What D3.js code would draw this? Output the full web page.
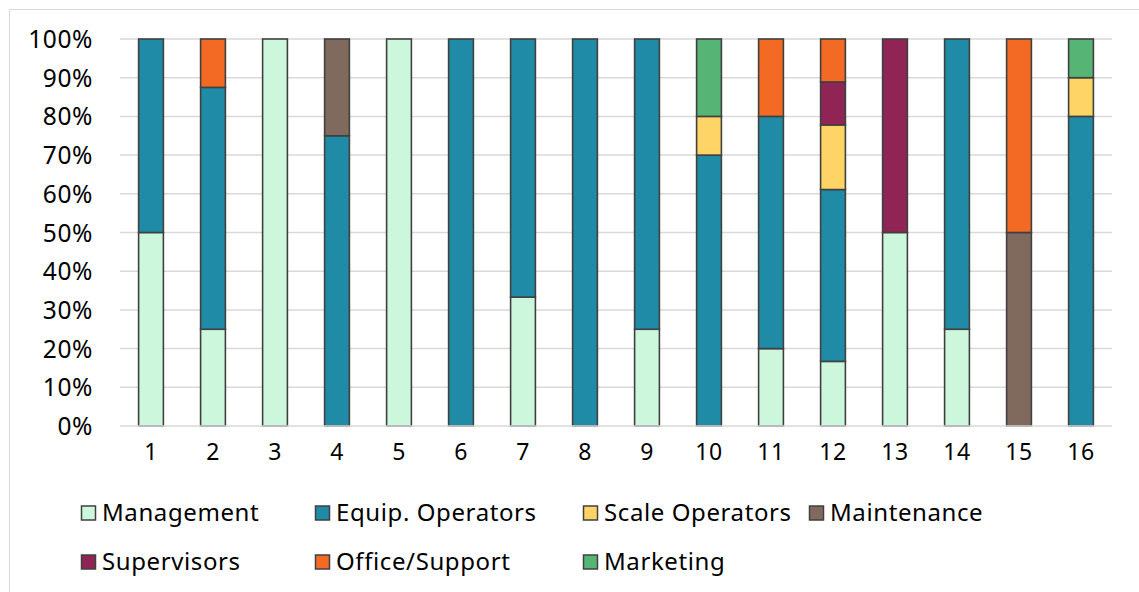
<!DOCTYPE html>
<html>
<head>
<meta charset="utf-8">
<script src="https://cdn.jsdelivr.net/npm/d3@7"></script>
<style>
  html, body { margin: 0; padding: 0; background: #fff; }
  svg text { font-family: "Noto Sans", "Open Sans", sans-serif; fill: #000; letter-spacing: 0.6px; }
</style>
</head>
<body>
<svg id="chart" width="1139" height="592"></svg>
<script>
// Crew composition per site, share of staff by role (%)
const categories = ["1","2","3","4","5","6","7","8","9","10","11","12","13","14","15","16"];
const seriesNames = ["Management","Equip. Operators","Scale Operators","Maintenance","Supervisors","Office/Support","Marketing"];
const management     = [50, 25, 100, 0, 100, 0, 33.3, 0, 25, 0, 20, 16.7, 50, 25, 0, 0];
const equipOperators = [50, 62.5, 0, 75, 0, 100, 66.7, 100, 75, 70, 60, 44.4, 0, 75, 0, 80];
const scaleOperators = [0, 0, 0, 0, 0, 0, 0, 0, 0, 10, 0, 16.7, 0, 0, 0, 10];
const maintenance    = [0, 0, 0, 25, 0, 0, 0, 0, 0, 0, 0, 0, 0, 0, 50, 0];
const supervisors    = [0, 0, 0, 0, 0, 0, 0, 0, 0, 0, 0, 11.1, 50, 0, 0, 0];
const officeSupport  = [0, 12.5, 0, 0, 0, 0, 0, 0, 0, 0, 20, 11.1, 0, 0, 50, 0];
const marketing      = [0, 0, 0, 0, 0, 0, 0, 0, 0, 20, 0, 0, 0, 0, 0, 10];
const yTicks = [0, 10, 20, 30, 40, 50, 60, 70, 80, 90, 100];
const colors = ["#CDF7DD", "#1F8BA7", "#FFD466", "#806A5E", "#902454", "#F26A24", "#56B475"];

const seriesValues = [management, equipOperators, scaleOperators, maintenance, supervisors, officeSupport, marketing];
const rows = categories.map((c, i) => {
  const r = { cat: c };
  seriesNames.forEach((s, j) => r[s] = seriesValues[j][i]);
  return r;
});

const svg = d3.select("#chart");
const W = 1139, H = 592;
const margin = { left: 120, right: 27, top: 39, bottom: 166 };

// outer chart frame
svg.append("rect").attr("x", 9.5).attr("y", 9.5).attr("width", W).attr("height", H)
  .attr("fill", "#fff").attr("stroke", "#d9d9d9").attr("stroke-width", 1);

const x = d3.scaleBand().domain(categories).range([margin.left, W - margin.right]).paddingInner(0.6).paddingOuter(0.3);
const y = d3.scaleLinear().domain([0, 100]).range([H - margin.bottom, margin.top]);

// gridlines
svg.append("g").selectAll("line").data(yTicks.filter(t => t > 0)).join("line")
  .attr("x1", margin.left).attr("x2", W - margin.right)
  .attr("y1", d => y(d)).attr("y2", d => y(d))
  .attr("stroke", "#d9d9d9").attr("stroke-width", 1.5);

// y axis labels
const yAxis = d3.axisLeft(y).tickValues(yTicks).tickFormat(d => d + "%").tickSize(0).tickPadding(27);
const gy = svg.append("g").attr("transform", `translate(${margin.left},0)`).call(yAxis);
gy.select(".domain").remove();
gy.selectAll("text").attr("font-size", 24.5).attr("dy", "0.35em")
  .style("font-family", "'Noto Sans', 'Open Sans', sans-serif");

// stacked bars
const stack = d3.stack().keys(seriesNames);
const layers = stack(rows);
svg.append("g").selectAll("g").data(layers).join("g")
  .attr("fill", (d, i) => colors[i])
  .selectAll("rect").data(d => d.filter(p => p[1] - p[0] > 0)).join("rect")
  .attr("x", d => x(d.data.cat))
  .attr("width", x.bandwidth())
  .attr("y", d => y(d[1]))
  .attr("height", d => y(d[0]) - y(d[1]))
  .attr("stroke", "#404040").attr("stroke-width", 1.6);

// x axis
svg.append("line").attr("x1", margin.left).attr("x2", W - margin.right)
  .attr("y1", y(0)).attr("y2", y(0)).attr("stroke", "#d9d9d9").attr("stroke-width", 1.5);
const xAxis = d3.axisBottom(x).tickSize(0).tickPadding(18);
const gx = svg.append("g").attr("transform", `translate(0,${y(0)})`).call(xAxis);
gx.select(".domain").remove();
gx.selectAll("text").attr("font-size", 23)
  .style("font-family", "'Noto Sans', 'Open Sans', sans-serif");

// legend
const legendPos = [
  [81, 513], [315, 513], [583, 513], [809, 513],
  [81, 562], [315, 562], [583, 562]
];
const lg = svg.append("g").selectAll("g").data(seriesNames).join("g")
  .attr("transform", (d, i) => `translate(${legendPos[i][0]},${legendPos[i][1]})`);
lg.append("rect").attr("x", 0.5).attr("y", -7).attr("width", 14).attr("height", 14)
  .attr("fill", (d, i) => colors[i]).attr("stroke", "#404040").attr("stroke-width", 1.5);
lg.append("text").attr("x", 21).attr("y", 0).attr("dy", "0.35em").attr("font-size", 24).text(d => d);
</script>
</body>
</html>
